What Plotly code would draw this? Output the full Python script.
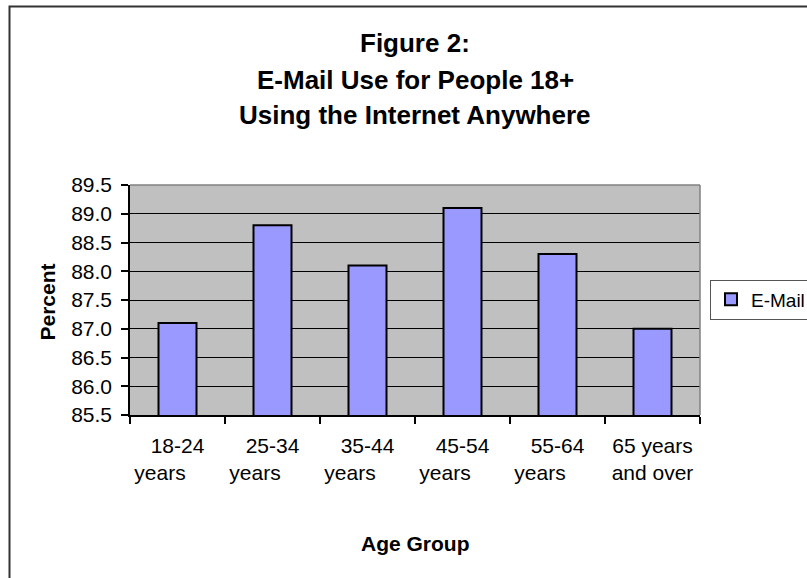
import plotly.graph_objects as go

categories = ["18-24 years", "25-34 years", "35-44 years", "45-54 years", "55-64 years", "65 years and over"]
tick_labels = ["18-24<br>years" + "&nbsp;" * 6,
               "25-34<br>years" + "&nbsp;" * 6,
               "35-44<br>years" + "&nbsp;" * 6,
               "45-54<br>years" + "&nbsp;" * 6,
               "55-64<br>years" + "&nbsp;" * 6,
               "65 years<br>and over"]
email_values = [87.1, 88.8, 88.1, 89.1, 88.3, 87.0]
series_name = "E-Mail"
title_lines = ["Figure 2:", "E-Mail Use for People 18+", "Using the Internet Anywhere"]
y_title = "Percent"
x_title = "Age Group"
y_ticks = [85.5, 86.0, 86.5, 87.0, 87.5, 88.0, 88.5, 89.0, 89.5]

FONT = "Liberation Sans, Arial, sans-serif"

fig = go.Figure()
fig.add_trace(go.Bar(
    x=categories, y=email_values, name=series_name,
    marker=dict(color="#9999FF", line=dict(color="#000000", width=2)),
    showlegend=True,
))

# plot area: x 130..700, y 185..415 px
W, H = 807, 578
L, R, T, B = 130, 700, 185, 415
def px(x):
    return (x - L) / (R - L)
def py(y):
    return (B - y) / (B - T)

annotations = []
for line, yc in zip(title_lines, [43, 80, 115]):
    annotations.append(dict(text="<b>%s</b>" % line, x=0.5, y=py(yc), xref="paper", yref="paper",
                            xanchor="center", yanchor="middle", showarrow=False,
                            font=dict(family=FONT, size=26, color="#000000")))
annotations.append(dict(text="<b>%s</b>" % y_title, x=px(46.5), y=py(302), xref="paper", yref="paper",
                        xanchor="center", yanchor="middle", textangle=-90, showarrow=False,
                        font=dict(family=FONT, size=21, color="#000000")))
annotations.append(dict(text="<b>%s</b>" % x_title, x=0.5, y=py(543), xref="paper", yref="paper",
                        xanchor="center", yanchor="middle", showarrow=False,
                        font=dict(family=FONT, size=21, color="#000000")))

shapes = [
    # outer chart border (extends beyond the visible window right/bottom)
    dict(type="rect", xref="paper", yref="paper", x0=px(9.5), y0=py(6.5), x1=px(900), y1=py(700),
         line=dict(color="#333333", width=2), layer="above"),
    # plot-area border top and right (gray)
    dict(type="line", xref="paper", yref="paper", x0=0, x1=1, y0=1, y1=1,
         line=dict(color="#808080", width=1.5), layer="above"),
    dict(type="line", xref="paper", yref="paper", x0=1, x1=1, y0=0, y1=1,
         line=dict(color="#808080", width=1.5), layer="above"),
]

fig.update_layout(
    width=W, height=H,
    margin=dict(l=L, r=W - R, t=T, b=H - B, autoexpand=False),
    paper_bgcolor="#FFFFFF",
    plot_bgcolor="#C0C0C0",
    font=dict(family=FONT, size=20, color="#000000"),
    bargap=0.6,
    annotations=annotations,
    shapes=shapes,
    legend=dict(x=px(710), y=py(299.5), xanchor="left", yanchor="middle",
                bgcolor="#FFFFFF", bordercolor="#555555", borderwidth=1,
                font=dict(family=FONT, size=19, color="#000000"),
                itemwidth=30),
    xaxis=dict(
        tickmode="array", tickvals=categories, ticktext=tick_labels,
        showline=True, linecolor="#000000", linewidth=1.5,
        ticks="outside", tickson="boundaries", ticklen=7, tickcolor="#000000", tickwidth=1.5,
        showgrid=False, ticklabelstandoff=11, tickangle=0,
        tickfont=dict(family=FONT, size=21, color="#000000"),
    ),
    yaxis=dict(
        range=[85.5, 89.5], tickmode="array", tickvals=y_ticks,
        ticktext=["%.1f" % v for v in y_ticks],
        showline=True, linecolor="#000000", linewidth=1.5,
        ticks="outside", ticklen=7, tickcolor="#000000", tickwidth=1.5,
        showgrid=True, gridcolor="#000000", gridwidth=1, zeroline=False,
        ticklabelstandoff=5,
        tickfont=dict(family=FONT, size=21, color="#000000"),
    ),
)

fig.write_html("out.html", config={"displayModeBar": False},
               post_script="document.body.style.margin='0px';document.body.style.overflow='hidden';")
